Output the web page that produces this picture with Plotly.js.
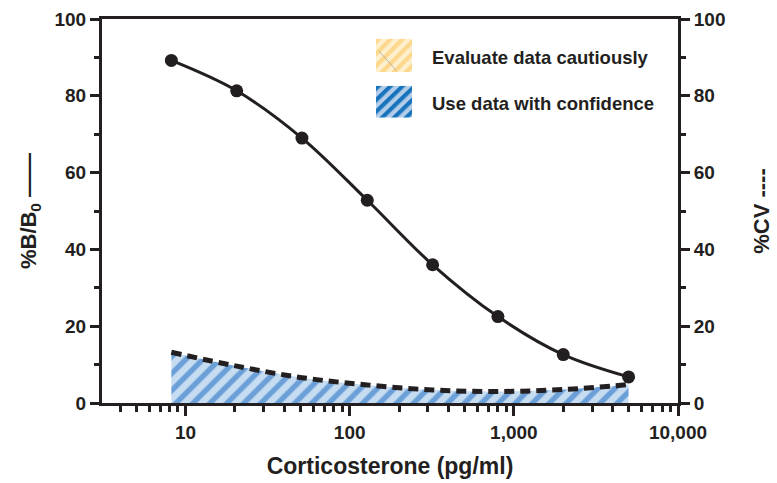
<!DOCTYPE html>
<html>
<head>
<meta charset="utf-8">
<script src="https://cdn.plot.ly/plotly-3.0.1.min.js"></script>
<style>
  html, body { margin: 0; padding: 0; background: #ffffff; }
  #chart { width: 777px; height: 483px; }
</style>
</head>
<body>
<div id="chart"></div>
<script>
// ---- data ----
const concentrations = [8.2, 20.5, 51.2, 128, 320, 800, 2000, 5000];      // pg/ml
const percentBB0     = [89.2, 81.3, 69.0, 52.8, 36.0, 22.5, 12.6, 6.8];   // %B/B0
const percentCV      = [13.2, 9.6, 6.6, 4.7, 3.4, 3.0, 3.5, 4.8];         // %CV

const xTickVals  = [10, 100, 1000, 10000];
const xTickText  = ['10', '100', '1,000', '10,000'];
const xMinorVals = [4, 5, 6, 7, 8, 9, 20, 30, 40, 50, 60, 70, 80, 90,
                    200, 300, 400, 500, 600, 700, 800, 900,
                    2000, 3000, 4000, 5000, 6000, 7000, 8000, 9000];
const yTickVals  = [0, 20, 40, 60, 80, 100];
const yMinorVals = [10, 30, 50, 70, 90];
const legendLabels = ['Evaluate data cautiously', 'Use data with confidence'];

// ---- styles ----
const INK = '#231f20';
const FONT = '"Liberation Sans", Arial, Helvetica, sans-serif';

function swatch(bg, fg, faint) {
  const svg = "<svg xmlns='http://www.w3.org/2000/svg' width='36' height='33'>" +
    "<defs><pattern id='p' width='8.5' height='8.5' patternUnits='userSpaceOnUse' patternTransform='rotate(45)'>" +
    "<rect width='8.5' height='8.5' fill='" + bg + "'/><rect width='4.2' height='8.5' fill='" + fg + "'/></pattern></defs>" +
    "<rect width='36' height='33' fill='url(#p)'/>" +
    (faint ? "<line x1='3' y1='12' x2='20' y2='31' stroke='#9a958a' stroke-width='0.6'/>" : "") +
    "</svg>";
  return 'data:image/svg+xml;charset=utf-8,' + encodeURIComponent(svg);
}

const axisCommon = {
  showline: true, linecolor: INK, linewidth: 3,
  ticks: 'outside', tickcolor: INK, tickwidth: 3,
  showgrid: false, zeroline: false,
  tickfont: { family: FONT, size: 19, color: INK, weight: 'bold' }
};

const traces = [
  {
    x: concentrations, y: percentCV, yaxis: 'y2',
    type: 'scatter', mode: 'lines',
    line: { shape: 'spline', color: INK, width: 5, dash: '10px,6px' },
    fill: 'tozeroy',
    fillcolor: '#c6dcf1',
    fillpattern: { shape: '/', bgcolor: '#c6dcf1', fgcolor: '#6b9fd7', size: 12, solidity: 0.45 },
    showlegend: false, hoverinfo: 'skip'
  },
  {
    x: concentrations, y: percentBB0,
    type: 'scatter', mode: 'lines+markers',
    line: { shape: 'spline', color: INK, width: 3 },
    marker: { color: INK, size: 13 },
    showlegend: false
  }
];

const layout = {
  width: 777, height: 483,
  margin: { l: 102, r: 99, t: 19, b: 80 },
  paper_bgcolor: '#ffffff', plot_bgcolor: '#ffffff',
  showlegend: false,
  font: { family: FONT, color: INK },
  xaxis: Object.assign({}, axisCommon, {
    type: 'log', range: [Math.log10(3.1), 4],
    tickmode: 'array', tickvals: xTickVals, ticktext: xTickText,
    ticklen: 10, mirror: true,
    minor: { tickmode: 'array', tickvals: xMinorVals, ticks: 'outside', ticklen: 6, tickwidth: 3, tickcolor: INK, showgrid: false },
    title: { text: 'Corticosterone (pg/ml)', standoff: 17,
             font: { family: FONT, size: 23, color: INK, weight: 'bold' } }
  }),
  yaxis: Object.assign({}, axisCommon, {
    range: [0, 100], tickmode: 'array', tickvals: yTickVals, ticklen: 9,
    minor: { tickmode: 'array', tickvals: yMinorVals, ticks: 'outside', ticklen: 5, tickwidth: 3, tickcolor: INK, showgrid: false },
    title: { text: '%B/B<sub>0</sub> ——', standoff: 12,
             font: { family: FONT, size: 22, color: INK, weight: 'bold' } }
  }),
  yaxis2: Object.assign({}, axisCommon, {
    range: [0, 100], tickmode: 'array', tickvals: yTickVals, ticklen: 9,
    overlaying: 'y', side: 'right',
    minor: { tickmode: 'array', tickvals: yMinorVals, ticks: 'outside', ticklen: 5, tickwidth: 3, tickcolor: INK, showgrid: false },
    title: { text: '%CV ----', standoff: 30,
             font: { family: FONT, size: 22, color: INK, weight: 'bold' } }
  }),
  images: [
    { source: swatch('#fdf0cf', '#fdd88c', true), xref: 'paper', yref: 'paper',
      x: 0.4757, y: 0.9487, sizex: 0.0625, sizey: 0.0872,
      xanchor: 'left', yanchor: 'top', sizing: 'stretch', layer: 'above' },
    { source: swatch('#b3cde9', '#1874bd', false), xref: 'paper', yref: 'paper',
      x: 0.4757, y: 0.8263, sizex: 0.0625, sizey: 0.0833,
      xanchor: 'left', yanchor: 'top', sizing: 'stretch', layer: 'above' }
  ],
  annotations: [
    { text: legendLabels[0], xref: 'paper', yref: 'paper', x: 0.5694, y: 0.8992,
      xanchor: 'left', yanchor: 'middle', showarrow: false,
      font: { family: FONT, size: 18.5, color: INK, weight: 'bold' } },
    { text: legendLabels[1], xref: 'paper', yref: 'paper', x: 0.5694, y: 0.7794,
      xanchor: 'left', yanchor: 'middle', showarrow: false,
      font: { family: FONT, size: 18.5, color: INK, weight: 'bold' } }
  ]
};

Plotly.newPlot('chart', traces, layout, { displayModeBar: false, staticPlot: true });
</script>
</body>
</html>
